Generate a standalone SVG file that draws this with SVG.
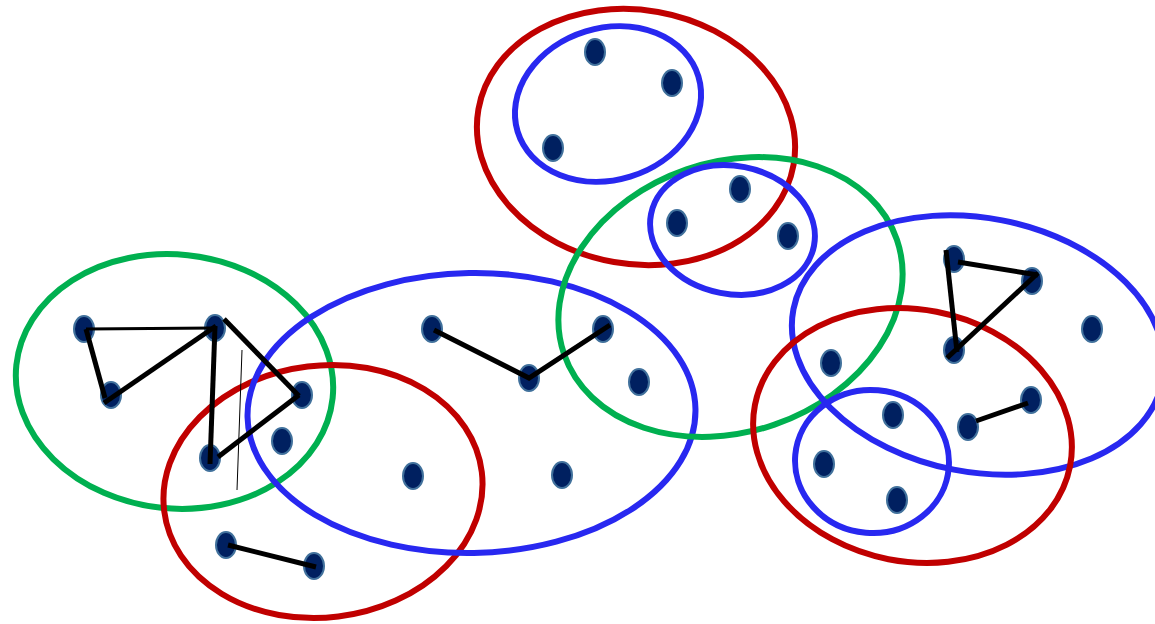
<svg xmlns="http://www.w3.org/2000/svg" width="1155" height="624" viewBox="0 0 1155 624">
<style>
.set{fill:none;stroke-width:6}
.g{stroke:#00b050}.r{stroke:#c00000}.b{stroke:#2828f0}
.n{fill:#002060;stroke:#41719c;stroke-width:2}
.e{stroke:#000;stroke-width:5;stroke-linecap:butt;fill:none}
.t{stroke:#000;stroke-width:3}
.h{stroke:#000;stroke-width:1}
</style>
<rect width="1155" height="624" fill="#fff"/>
<g id="sets">
<ellipse id="set-green-left" class="set g" cx="174.5" cy="381.5" rx="159" ry="127" transform="rotate(6 174.5 381.5)"/>
<ellipse id="set-red-bl" class="set r" cx="323" cy="491.5" rx="160" ry="126" transform="rotate(-7 323 491.5)"/>
<ellipse id="set-blue-mid" class="set b" cx="471.5" cy="413" rx="224" ry="140" transform="rotate(-1 471.5 413)"/>
<ellipse id="set-red-top" class="set r" cx="636" cy="137" rx="160" ry="127" transform="rotate(10 636 137)"/>
<ellipse id="set-blue-top" class="set b" cx="608" cy="104" rx="94.5" ry="76" transform="rotate(-17 608 104)"/>
<ellipse id="set-green-mid" class="set g" cx="730.5" cy="297" rx="176" ry="135" transform="rotate(-19 730.5 297)"/>
<ellipse id="set-blue-small" class="set b" cx="732.5" cy="230" rx="83" ry="64" transform="rotate(11 732.5 230)"/>
<ellipse id="set-blue-right" class="set b" cx="978" cy="345" rx="188" ry="127" transform="rotate(11 978 345)"/>
<ellipse id="set-red-right" class="set r" cx="912.5" cy="435.5" rx="160.5" ry="126" transform="rotate(11 912.5 435.5)"/>
<ellipse id="set-blue-br" class="set b" cx="872" cy="461.5" rx="77" ry="71.5" transform="rotate(5 872 461.5)"/>
</g>
<g id="nodes">
<ellipse id="n1" class="n" cx="84" cy="329" rx="10" ry="13"/>
<ellipse id="n2" class="n" cx="111" cy="395" rx="10" ry="13"/>
<ellipse id="n3" class="n" cx="215" cy="328" rx="10" ry="13"/>
<ellipse id="n4" class="n" cx="302" cy="395" rx="10" ry="13"/>
<ellipse id="n5" class="n" cx="282" cy="441" rx="10" ry="13"/>
<ellipse id="n6" class="n" cx="210" cy="458" rx="10" ry="13"/>
<ellipse id="n7" class="n" cx="226" cy="545" rx="10" ry="13"/>
<ellipse id="n8" class="n" cx="314" cy="566" rx="10" ry="13"/>
<ellipse id="n9" class="n" cx="432" cy="329" rx="10" ry="13"/>
<ellipse id="n10" class="n" cx="529" cy="378" rx="10" ry="13"/>
<ellipse id="n11" class="n" cx="603" cy="329" rx="10" ry="13"/>
<ellipse id="n12" class="n" cx="639" cy="382" rx="10" ry="13"/>
<ellipse id="n13" class="n" cx="413" cy="476" rx="10" ry="13"/>
<ellipse id="n14" class="n" cx="562" cy="475" rx="10" ry="13"/>
<ellipse id="n15" class="n" cx="595" cy="52" rx="10" ry="13"/>
<ellipse id="n16" class="n" cx="672" cy="83" rx="10" ry="13"/>
<ellipse id="n17" class="n" cx="553" cy="148" rx="10" ry="13"/>
<ellipse id="n18" class="n" cx="677" cy="223" rx="10" ry="13"/>
<ellipse id="n19" class="n" cx="740" cy="189" rx="10" ry="13"/>
<ellipse id="n20" class="n" cx="788" cy="236" rx="10" ry="13"/>
<ellipse id="n21" class="n" cx="954" cy="259" rx="10" ry="13"/>
<ellipse id="n22" class="n" cx="1032" cy="281" rx="10" ry="13"/>
<ellipse id="n23" class="n" cx="954" cy="350" rx="10" ry="13"/>
<ellipse id="n24" class="n" cx="1092" cy="329" rx="10" ry="13"/>
<ellipse id="n25" class="n" cx="831" cy="363" rx="10" ry="13"/>
<ellipse id="n26" class="n" cx="893" cy="415" rx="10" ry="13"/>
<ellipse id="n27" class="n" cx="968" cy="427" rx="10" ry="13"/>
<ellipse id="n28" class="n" cx="1031" cy="400" rx="10" ry="13"/>
<ellipse id="n29" class="n" cx="824" cy="464" rx="10" ry="13"/>
<ellipse id="n30" class="n" cx="897" cy="500" rx="10" ry="13"/>
</g>
<g id="connectors">
<line class="t" x1="86" y1="329" x2="215" y2="328"/>
<line class="e" x1="86" y1="329" x2="105" y2="398"/>
<line class="e" x1="104" y1="403" x2="216" y2="326"/>
<line class="e" x1="215" y1="326" x2="210" y2="464"/>
<line class="e" x1="224" y1="319" x2="299" y2="396"/>
<line class="e" x1="299" y1="395" x2="218" y2="457"/>
<line class="h" x1="242" y1="350" x2="237" y2="490"/>
<line class="e" x1="228" y1="545" x2="316" y2="567"/>
<polyline class="e" points="434,330 529,378 610,325"/>
<line class="e" x1="946" y1="250" x2="957" y2="352"/>
<line class="e" x1="958" y1="262" x2="1038" y2="275"/>
<line class="e" x1="1038" y1="273" x2="947" y2="358"/>
<line class="e" x1="976" y1="421" x2="1028" y2="403"/>
</g>
</svg>
